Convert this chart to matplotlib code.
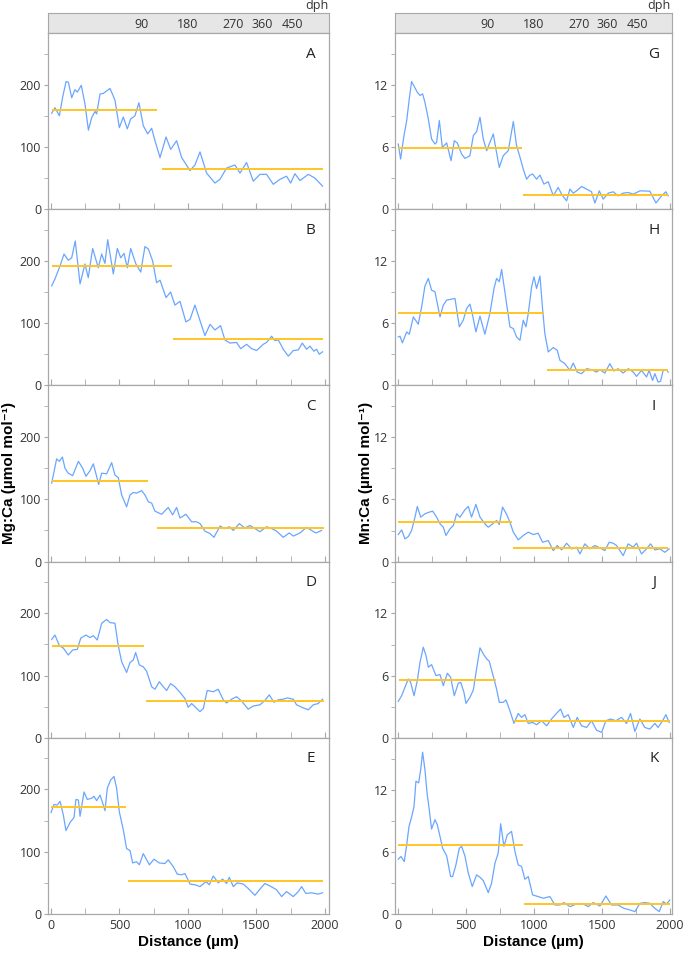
import matplotlib
matplotlib.use("Agg")
import matplotlib.pyplot as plt
from matplotlib.ticker import MultipleLocator

# ---- data (distance in um, ratio values) ----
a_x = [5, 29, 61, 85, 110, 127, 151, 175, 192, 221, 248, 273, 297, 321, 333, 358, 382, 431, 467, 499, 528, 557, 582, 613, 642, 674, 706, 735, 759, 796, 840, 874, 917, 954, 1015, 1051, 1088, 1136, 1197, 1234, 1282, 1343, 1380, 1428, 1477, 1526, 1574, 1623, 1672, 1720, 1750, 1781, 1818, 1879, 1927, 1983]
a_y = [154, 163, 150, 180, 205, 204, 179, 192, 188, 199, 169, 127, 147, 157, 153, 185, 186, 194, 175, 131, 148, 129, 145, 150, 171, 134, 121, 130, 110, 83, 116, 96, 110, 83, 62, 71, 92, 58, 42, 48, 66, 71, 58, 75, 45, 56, 56, 40, 48, 53, 42, 57, 46, 56, 50, 37]
a_mean = [(5, 775, 160), (808, 1983, 65)]

b_x = [5, 29, 66, 95, 126, 151, 177, 212, 248, 272, 304, 345, 370, 394, 414, 455, 484, 509, 533, 557, 582, 620, 655, 686, 711, 742, 771, 796, 840, 873, 905, 942, 985, 1015, 1051, 1088, 1124, 1161, 1197, 1238, 1270, 1307, 1355, 1385, 1428, 1465, 1501, 1550, 1574, 1611, 1635, 1660, 1696, 1733, 1769, 1806, 1835, 1866, 1891, 1920, 1939, 1959, 1983]
b_y = [160, 171, 192, 211, 201, 205, 232, 163, 195, 173, 220, 189, 211, 196, 234, 179, 220, 205, 212, 189, 220, 195, 182, 223, 219, 200, 165, 169, 141, 150, 129, 135, 102, 106, 129, 104, 80, 98, 89, 96, 73, 68, 69, 59, 66, 59, 56, 66, 69, 79, 72, 73, 58, 47, 56, 57, 68, 58, 63, 55, 58, 50, 54]
b_mean = [(5, 881, 192), (893, 1989, 75)]

c_x = [5, 41, 61, 83, 102, 126, 158, 200, 231, 255, 285, 309, 333, 348, 370, 406, 443, 467, 491, 516, 552, 577, 601, 625, 662, 686, 711, 735, 759, 808, 856, 888, 917, 942, 985, 1027, 1063, 1088, 1124, 1161, 1190, 1234, 1270, 1302, 1331, 1375, 1416, 1453, 1489, 1526, 1574, 1611, 1647, 1696, 1740, 1769, 1818, 1866, 1903, 1934, 1976]
c_y = [126, 165, 161, 168, 150, 142, 138, 161, 150, 137, 146, 157, 137, 124, 142, 141, 159, 139, 135, 107, 88, 107, 111, 110, 114, 107, 96, 94, 81, 76, 87, 75, 87, 70, 76, 64, 64, 61, 49, 45, 39, 57, 53, 56, 50, 61, 54, 58, 53, 48, 56, 53, 49, 39, 46, 41, 46, 55, 50, 46, 50]
c_mean = [(5, 711, 130), (771, 1990, 54)]

d_x = [5, 29, 61, 90, 126, 158, 192, 217, 255, 285, 309, 338, 370, 406, 431, 467, 491, 516, 552, 577, 601, 618, 645, 674, 698, 735, 759, 791, 820, 844, 873, 905, 942, 978, 1002, 1027, 1088, 1112, 1141, 1185, 1221, 1258, 1282, 1319, 1355, 1392, 1440, 1477, 1526, 1562, 1594, 1628, 1660, 1696, 1725, 1769, 1793, 1842, 1879, 1915, 1951, 1983]
d_y = [158, 165, 148, 144, 133, 141, 142, 160, 165, 161, 164, 157, 184, 190, 185, 184, 148, 122, 105, 121, 125, 137, 117, 114, 107, 82, 78, 90, 82, 76, 87, 82, 73, 63, 49, 55, 42, 47, 76, 74, 78, 61, 56, 62, 66, 59, 46, 51, 53, 60, 69, 57, 61, 62, 64, 62, 53, 48, 45, 53, 55, 62]
d_mean = [(5, 679, 148), (694, 1990, 59)]

e_x = [0, 22, 46, 66, 90, 109, 139, 168, 182, 200, 212, 241, 265, 297, 314, 333, 358, 382, 394, 411, 435, 460, 479, 499, 528, 552, 577, 596, 625, 645, 674, 718, 752, 791, 832, 856, 893, 922, 954, 978, 1015, 1051, 1088, 1131, 1156, 1185, 1221, 1253, 1282, 1302, 1331, 1360, 1404, 1440, 1489, 1526, 1562, 1599, 1647, 1684, 1720, 1769, 1806, 1830, 1861, 1903, 1951, 1983]
e_y = [163, 176, 175, 181, 159, 134, 147, 155, 184, 183, 157, 196, 184, 186, 189, 182, 191, 175, 166, 202, 215, 221, 202, 164, 135, 105, 102, 82, 84, 79, 97, 79, 88, 82, 81, 87, 76, 64, 63, 65, 48, 47, 44, 52, 47, 61, 50, 56, 49, 59, 44, 50, 48, 41, 30, 40, 49, 45, 39, 28, 36, 28, 36, 44, 33, 34, 32, 34]
e_mean = [(0, 548, 172), (565, 1983, 53)]

g_x = [2, 19, 44, 64, 83, 100, 118, 142, 162, 181, 198, 223, 247, 272, 284, 304, 326, 358, 390, 414, 436, 468, 492, 529, 554, 578, 603, 627, 652, 676, 701, 720, 745, 774, 811, 848, 872, 901, 921, 946, 970, 990, 1019, 1044, 1073, 1105, 1142, 1178, 1203, 1240, 1264, 1289, 1313, 1350, 1387, 1423, 1448, 1480, 1509, 1546, 1583, 1619, 1656, 1693, 1730, 1779, 1852, 1897, 1938, 1970, 1987]
g_y = [6.29, 4.84, 7.10, 8.55, 10.65, 12.32, 11.87, 11.29, 10.97, 11.13, 10.32, 8.71, 6.77, 6.29, 6.45, 8.55, 5.97, 6.39, 4.68, 6.61, 6.39, 5.32, 4.90, 5.16, 7.10, 7.48, 8.87, 6.77, 5.65, 6.45, 7.26, 5.81, 4.03, 5.16, 5.65, 8.45, 6.13, 4.84, 3.87, 2.90, 3.29, 3.39, 2.90, 3.29, 2.42, 2.65, 1.29, 2.10, 1.45, 0.8, 1.94, 1.55, 1.77, 2.19, 1.94, 1.68, 0.6, 1.77, 0.97, 1.55, 1.68, 1.29, 1.55, 1.61, 1.45, 1.77, 1.74, 0.6, 1.29, 1.68, 1.29]
g_mean = [(2, 909, 5.9), (921, 1987, 1.35)]

h_x = [2, 15, 32, 64, 83, 113, 149, 174, 198, 223, 247, 272, 309, 333, 358, 382, 419, 451, 480, 505, 529, 546, 573, 603, 639, 676, 706, 725, 745, 762, 786, 823, 848, 872, 897, 921, 941, 958, 983, 1000, 1019, 1044, 1063, 1080, 1105, 1142, 1171, 1191, 1227, 1264, 1289, 1318, 1350, 1387, 1423, 1460, 1485, 1521, 1558, 1588, 1619, 1656, 1693, 1730, 1754, 1791, 1828, 1847, 1872, 1889, 1913, 1931, 1950, 1975, 1987]
h_y = [4.68, 4.74, 4.10, 5.16, 4.94, 6.61, 5.90, 7.58, 9.58, 10.32, 9.19, 9.03, 6.61, 7.74, 8.23, 8.29, 8.39, 5.65, 6.29, 7.42, 7.84, 6.94, 5.16, 6.68, 4.94, 6.94, 9.35, 10.32, 10.0, 11.19, 9.03, 5.65, 5.48, 4.68, 4.35, 6.29, 5.65, 6.94, 9.52, 10.48, 9.35, 10.55, 7.42, 5.0, 3.23, 3.65, 3.39, 2.42, 2.10, 1.45, 2.16, 1.29, 1.13, 1.61, 1.52, 1.29, 1.52, 1.19, 2.10, 1.39, 1.61, 1.19, 1.61, 1.29, 0.87, 1.45, 0.81, 1.45, 0.48, 1.13, 0.32, 0.4, 1.45, 1.52, 1.29]
h_mean = [(2, 1073, 6.94), (1093, 1987, 1.45)]

i_x = [2, 27, 51, 76, 100, 125, 142, 167, 198, 230, 255, 284, 309, 333, 353, 382, 407, 431, 456, 492, 517, 541, 573, 603, 639, 664, 696, 725, 745, 769, 799, 823, 848, 884, 921, 958, 995, 1031, 1063, 1105, 1142, 1171, 1203, 1240, 1277, 1313, 1338, 1374, 1411, 1448, 1485, 1521, 1553, 1583, 1607, 1632, 1656, 1693, 1730, 1754, 1791, 1828, 1857, 1889, 1926, 1962, 1994]
i_y = [2.61, 3.06, 2.19, 2.42, 3.0, 4.29, 5.32, 4.29, 4.61, 4.77, 4.87, 4.29, 3.65, 3.32, 2.52, 3.16, 3.48, 4.61, 4.29, 5.0, 5.32, 4.29, 5.52, 4.29, 3.65, 3.32, 3.65, 3.97, 3.58, 5.26, 4.55, 3.81, 2.84, 2.10, 2.52, 2.84, 2.61, 2.74, 1.87, 2.03, 1.06, 1.55, 1.13, 1.77, 1.23, 1.39, 0.74, 1.71, 1.23, 1.55, 1.32, 1.06, 1.87, 1.77, 1.55, 1.06, 0.58, 1.71, 1.39, 1.77, 0.74, 1.23, 1.71, 1.13, 1.23, 0.90, 1.23]
i_mean = [(2, 835, 3.81), (848, 1987, 1.29)]

j_x = [2, 27, 51, 76, 93, 118, 142, 162, 186, 206, 223, 247, 279, 309, 333, 363, 387, 414, 443, 461, 485, 500, 529, 554, 578, 603, 627, 652, 671, 696, 725, 745, 774, 794, 823, 853, 884, 909, 933, 958, 990, 1019, 1056, 1093, 1129, 1161, 1196, 1220, 1252, 1289, 1318, 1350, 1387, 1423, 1460, 1497, 1529, 1563, 1603, 1644, 1681, 1710, 1742, 1779, 1815, 1852, 1889, 1913, 1946, 1970, 1994]
j_y = [3.52, 4.06, 4.87, 5.68, 5.35, 4.06, 5.52, 7.29, 8.74, 7.94, 6.81, 7.06, 6.0, 6.10, 5.03, 6.23, 5.84, 4.06, 5.26, 5.35, 4.39, 3.32, 3.90, 4.61, 6.65, 8.68, 8.10, 7.61, 7.39, 6.16, 4.71, 3.42, 3.42, 3.65, 2.61, 1.39, 2.35, 1.97, 2.23, 1.39, 1.48, 1.26, 1.65, 1.16, 1.81, 2.29, 2.77, 1.97, 2.23, 1.0, 1.97, 1.16, 1.0, 1.65, 0.74, 0.52, 1.65, 1.81, 1.65, 1.97, 1.39, 2.35, 0.61, 1.81, 1.0, 0.84, 1.39, 1.0, 1.65, 2.23, 1.48]
j_mean = [(7, 720, 5.58), (853, 1999, 1.65)]

k_x = [2, 22, 46, 64, 81, 100, 118, 132, 152, 167, 181, 198, 215, 230, 247, 272, 289, 309, 328, 358, 387, 402, 426, 451, 468, 492, 517, 546, 578, 603, 627, 664, 688, 713, 737, 755, 779, 804, 835, 860, 884, 909, 933, 958, 990, 1031, 1068, 1117, 1154, 1191, 1220, 1264, 1313, 1362, 1399, 1436, 1485, 1529, 1570, 1619, 1661, 1705, 1742, 1779, 1815, 1852, 1889, 1921, 1950, 1975, 1999]
k_y = [5.29, 5.55, 5.06, 6.68, 8.45, 9.35, 10.39, 12.81, 12.65, 13.94, 15.61, 13.94, 11.52, 10.06, 8.19, 9.10, 8.61, 7.48, 6.35, 5.61, 3.61, 3.61, 4.74, 6.35, 6.52, 5.61, 3.94, 2.65, 3.77, 3.55, 3.23, 2.06, 2.97, 4.90, 5.87, 8.71, 6.52, 7.65, 7.97, 6.03, 4.74, 4.58, 3.35, 3.61, 1.84, 1.68, 1.52, 1.68, 0.87, 0.87, 1.10, 0.71, 0.97, 0.97, 0.71, 1.10, 0.77, 1.74, 0.87, 0.87, 0.55, 0.39, 0.23, 1.03, 1.10, 1.03, 0.55, 0.23, 1.19, 0.97, 1.35]
k_mean = [(0, 916, 6.68), (926, 1999, 0.94)]

dph_labels = ["90", "180", "270", "360", "450"]
dph_pos = [660, 995, 1330, 1540, 1760]

left_panels = [("A", a_x, a_y, a_mean), ("B", b_x, b_y, b_mean), ("C", c_x, c_y, c_mean),
               ("D", d_x, d_y, d_mean), ("E", e_x, e_y, e_mean)]
right_panels = [("G", g_x, g_y, g_mean), ("H", h_x, h_y, h_mean), ("I", i_x, i_y, i_mean),
                ("J", j_x, j_y, j_mean), ("K", k_x, k_y, k_mean)]

# ---- styling ----
W, H = 685, 957
blue = "#6aa6ff"
gold = "#ffc526"
spine_c = "#a8a8a8"
txt_c = "#333333"
tick_font = "Open Sans"
bold_font = ["Liberation Sans", "DejaVu Sans"]

fig = plt.figure(figsize=(W / 100, H / 100), dpi=100)

top_px = 33
panel_h = (914 - 33) / 5.0

columns = [
    dict(x0=48, x1=329, xlim=(-22, 2030), ylim=(0, 283), major=100, minor=50, panels=left_panels,
         ylabel="Mg:Ca (µmol mol⁻¹)", ylab_x=9),
    dict(x0=395, x1=672, xlim=(-22, 2015), ylim=(0, 17), major=6, minor=3, panels=right_panels,
         ylabel="Mn:Ca (µmol mol⁻¹)", ylab_x=366),
]

for col in columns:
    left = col["x0"] / W
    width = (col["x1"] - col["x0"]) / W

    # dph strip on top
    dax = fig.add_axes([left, 1 - 33 / H, width, 20 / H])
    dax.set_facecolor("#e6e6e6")
    dax.set_xlim(col["xlim"])
    dax.set_ylim(0, 1)
    dax.set_xticks([])
    dax.set_yticks([])
    for s in dax.spines.values():
        s.set_color(spine_c)
    for lab, p in zip(dph_labels, dph_pos):
        dax.text(p, 0.45, lab, ha="center", va="center", fontsize=9, color=txt_c, family=tick_font)
    fig.text((col["x1"] - 1) / W, 1 - 6 / H, "dph", ha="right", va="center", fontsize=9,
             color=txt_c, family=tick_font)

    for r, (letter, xs, ys, means) in enumerate(col["panels"]):
        b = 1 - (top_px + (r + 1) * panel_h) / H
        ax = fig.add_axes([left, b, width, panel_h / H])
        ax.plot(xs, ys, color=blue, lw=0.9, zorder=2)
        for x_start, x_end, lvl in means:
            ax.plot([x_start, x_end], [lvl, lvl], color=gold, lw=1.4, zorder=3,
                    solid_capstyle="butt")
        ax.set_xlim(col["xlim"])
        ax.set_ylim(col["ylim"])
        ax.yaxis.set_major_locator(MultipleLocator(col["major"]))
        ax.yaxis.set_minor_locator(MultipleLocator(col["minor"]))
        ax.xaxis.set_major_locator(MultipleLocator(500))
        ax.xaxis.set_minor_locator(MultipleLocator(250))
        ax.tick_params(axis="y", which="both", direction="out", length=3, color=spine_c,
                       labelsize=9, labelcolor=txt_c, pad=2)
        ax.tick_params(axis="x", which="both", direction="in", length=4, color=spine_c,
                       labelsize=9, labelcolor=txt_c)
        for lab in ax.get_yticklabels():
            lab.set_family(tick_font)
        for s in ax.spines.values():
            s.set_color(spine_c)
            s.set_linewidth(0.9)
        if r < 4:
            ax.tick_params(axis="x", labelbottom=False)
        else:
            for lab in ax.get_xticklabels():
                lab.set_family(tick_font)
            ax.set_xlabel("Distance (µm)", fontsize=11, fontweight="bold", family=bold_font,
                          color="black", labelpad=2)
        ax.text(0.935, 0.88, letter, transform=ax.transAxes, ha="center", va="center",
                fontsize=11, color="#222222", family=tick_font)

    fig.text(col["ylab_x"] / W, 1 - 473 / H, col["ylabel"], rotation=90, ha="center",
             va="center", fontsize=11, fontweight="bold", family=bold_font, color="black")

fig.savefig("out.png", dpi=100, facecolor="white")
